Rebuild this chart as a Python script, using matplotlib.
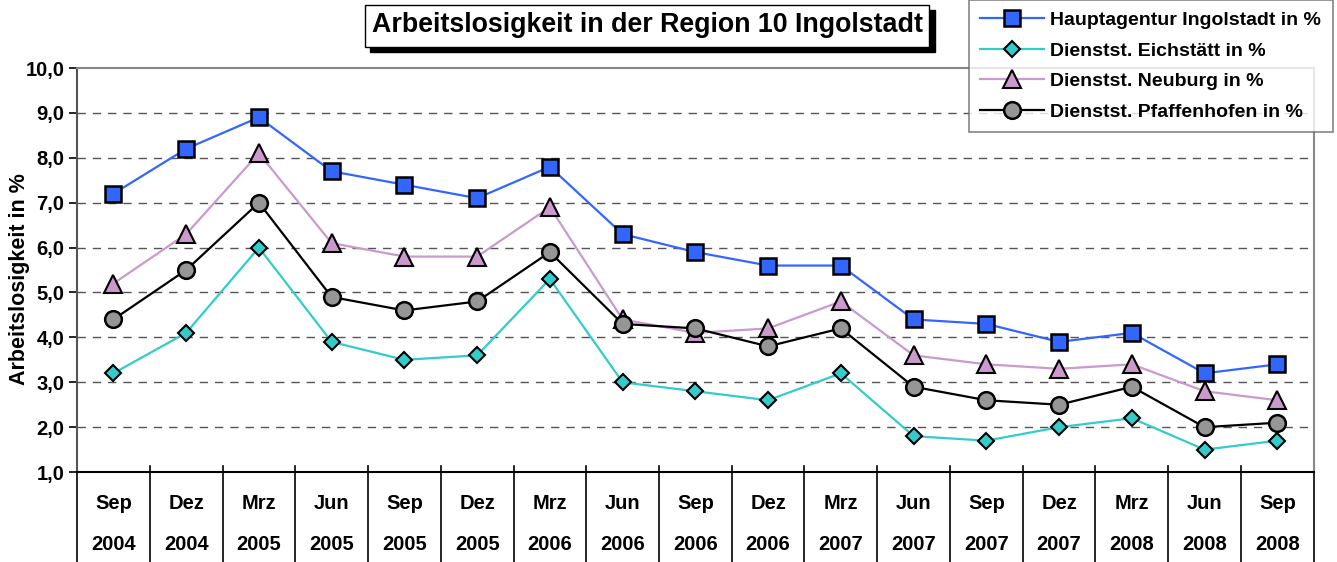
import matplotlib
matplotlib.use('Agg')
import matplotlib.pyplot as plt
import matplotlib.patches as mpatches
import matplotlib.transforms as mtransforms
import numpy as np

plt.rcParams['font.family'] = ['Liberation Sans', 'DejaVu Sans']
plt.rcParams['font.weight'] = 'bold'

# Quartalsdaten
months = ['Sep', 'Dez', 'Mrz', 'Jun', 'Sep', 'Dez', 'Mrz', 'Jun', 'Sep',
          'Dez', 'Mrz', 'Jun', 'Sep', 'Dez', 'Mrz', 'Jun', 'Sep']
years = ['2004', '2004', '2005', '2005', '2005', '2005', '2006', '2006', '2006',
         '2006', '2007', '2007', '2007', '2007', '2008', '2008', '2008']

ingolstadt = [7.2, 8.2, 8.9, 7.7, 7.4, 7.1, 7.8, 6.3, 5.9, 5.6, 5.6, 4.4, 4.3, 3.9, 4.1, 3.2, 3.4]
eichstaett = [3.2, 4.1, 6.0, 3.9, 3.5, 3.6, 5.3, 3.0, 2.8, 2.6, 3.2, 1.8, 1.7, 2.0, 2.2, 1.5, 1.7]
neuburg = [5.2, 6.3, 8.1, 6.1, 5.8, 5.8, 6.9, 4.4, 4.1, 4.2, 4.8, 3.6, 3.4, 3.3, 3.4, 2.8, 2.6]
pfaffenhofen = [4.4, 5.5, 7.0, 4.9, 4.6, 4.8, 5.9, 4.3, 4.2, 3.8, 4.2, 2.9, 2.6, 2.5, 2.9, 2.0, 2.1]

labels = ['Hauptagentur Ingolstadt in %', 'Dienstst. Eichstätt in %',
          'Dienstst. Neuburg in %', 'Dienstst. Pfaffenhofen in %']

x = np.arange(len(months))

fig = plt.figure(figsize=(13.37, 5.62), dpi=100)
ax = fig.add_axes([0.0576, 0.160, 0.925, 0.719])

ax.plot(x, ingolstadt, color='#3366FF', linewidth=1.6, marker='s', markersize=12,
        markerfacecolor='#3366FF', markeredgecolor='black', markeredgewidth=1.8,
        label=labels[0], zorder=3)
ax.plot(x, eichstaett, color='#33CCCC', linewidth=1.6, marker='D', markersize=8.5,
        markerfacecolor='#33CCCC', markeredgecolor='black', markeredgewidth=1.5,
        label=labels[1], zorder=3)
ax.plot(x, neuburg, color='#CC99CC', linewidth=1.6, marker='^', markersize=13,
        markerfacecolor='#CC99CC', markeredgecolor='black', markeredgewidth=1.5,
        label=labels[2], zorder=3)
ax.plot(x, pfaffenhofen, color='black', linewidth=1.6, marker='o', markersize=12,
        markerfacecolor='#969696', markeredgecolor='black', markeredgewidth=1.8,
        label=labels[3], zorder=3)

ax.set_xlim(-0.5, len(months) - 0.5)
ax.set_ylim(1, 10)

# Gitternetz
for yv in range(2, 10):
    ax.axhline(yv, color='#555555', linestyle=(0, (6, 5)), linewidth=1.0, zorder=1)

ax.spines['top'].set_color('#888888')
ax.spines['right'].set_color('#888888')
ax.spines['left'].set_color('#555555')
ax.spines['bottom'].set_color('black')
for s in ax.spines.values():
    s.set_linewidth(1.5)

ax.set_yticks(np.arange(1, 11))
ax.set_yticklabels([f'{v:.1f}'.replace('.', ',') for v in range(1, 11)], fontsize=14.5, fontweight='bold')
ax.tick_params(axis='y', length=6, width=1.2, direction='out', pad=3)

ax.set_xticks(x)
ax.set_xticklabels([f'{m}\n{y}' for m, y in zip(months, years)], fontsize=14.5,
                   fontweight='bold', linespacing=2.45)
ax.tick_params(axis='x', length=0, pad=16)

# Trennlinien der Kategorien
trans = mtransforms.blended_transform_factory(ax.transData, ax.transAxes)
for b in np.arange(-0.5, len(months) + 0.5, 1.0):
    ax.plot([b, b], [0.015, -0.25], color='black', linewidth=1.2,
            transform=trans, clip_on=False)

ax.set_ylabel('Arbeitslosigkeit in %', fontsize=15.5, fontweight='bold', labelpad=-3)
ax.yaxis.label.set_y(0.478)

# Titel mit Schatten
shadow = mpatches.Rectangle((0.277, 0.907), 0.422, 0.075, transform=fig.transFigure,
                            facecolor='black', edgecolor='black', zorder=5)
box = mpatches.Rectangle((0.273, 0.916), 0.422, 0.075, transform=fig.transFigure,
                         facecolor='white', edgecolor='black', linewidth=1.0, zorder=6)
fig.patches.extend([shadow, box])
fig.text(0.484, 0.955, 'Arbeitslosigkeit in der Region 10 Ingolstadt', fontsize=19.3,
         fontweight='bold', ha='center', va='center', zorder=7)

leg = fig.legend(loc='upper left', bbox_to_anchor=(0.7245, 1.0), fontsize=14,
                 frameon=True, fancybox=False, borderpad=0.6, labelspacing=0.66,
                 handlelength=3.3, handletextpad=0.3, borderaxespad=0)
leg.get_frame().set_edgecolor('#666666')
leg.get_frame().set_linewidth(1.2)
for t in leg.get_texts():
    t.set_fontweight('bold')

fig.savefig('out.png', dpi=100)
